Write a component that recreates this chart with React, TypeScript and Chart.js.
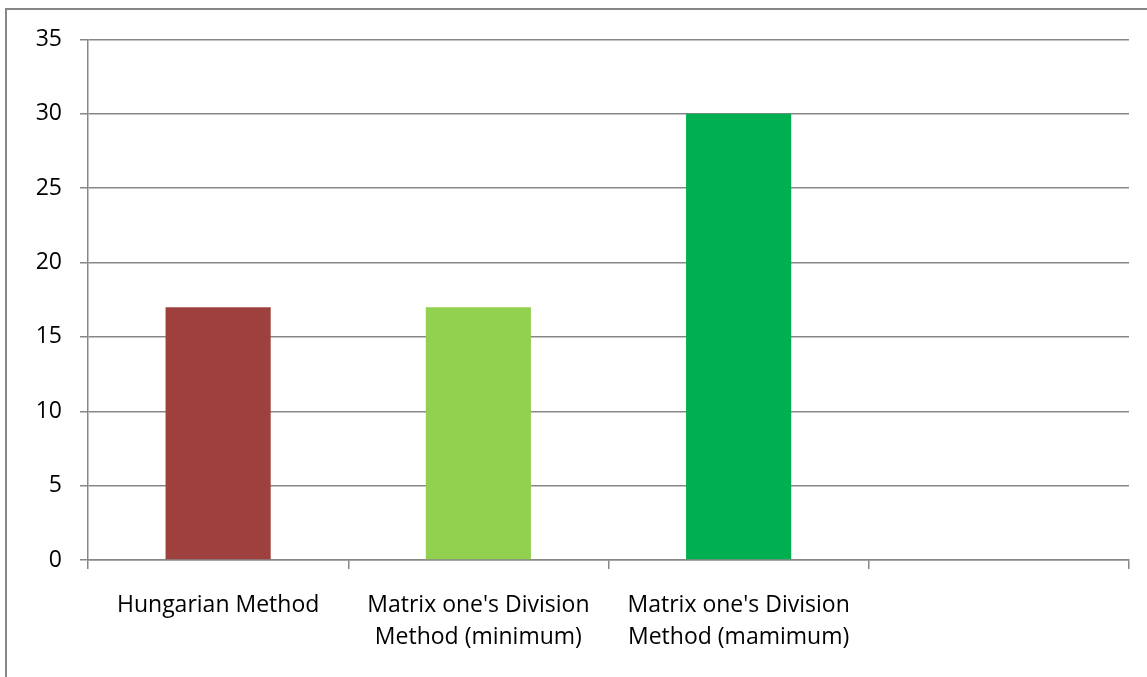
import React, { useEffect, useRef } from "react";
import { Chart, registerables } from "chart.js";

Chart.register(...registerables);

const categories: (string | string[])[] = [
  "Hungarian Method",
  ["Matrix one's Division", "Method (minimum)"],
  ["Matrix one's Division", "Method (mamimum)"],
  "",
];
const values: (number | null)[] = [17, 17, 30, null];
const barColors = ["#9E403D", "#92D050", "#00B050", "#000000"];
const yMin = 0;
const yMax = 35;
const yStep = 5;

export default function App() {
  const ref = useRef<HTMLCanvasElement>(null);
  useEffect(() => {
    if (!ref.current) return;
    const xFont = { family: "'Open Sans', sans-serif", size: 23, lineHeight: 1.4 };
    const yFont = { family: "'Open Sans', sans-serif", size: 23, lineHeight: 1.0 };
    const chart = new Chart(ref.current, {
      type: "bar",
      data: {
        labels: categories,
        datasets: [
          {
            data: values,
            backgroundColor: barColors,
            borderWidth: 0,
            categoryPercentage: 1,
            barPercentage: 0.404,
          },
        ],
      },
      options: {
        animation: false,
        responsive: false,
        devicePixelRatio: 1,
        layout: { padding: { left: 0, right: 18, top: 28, bottom: 0 } },
        plugins: { legend: { display: false }, tooltip: { enabled: false } },
        scales: {
          x: {
            offset: true,
            grid: {
              offset: true,
              drawOnChartArea: false,
              drawTicks: true,
              tickLength: 9,
              color: "#878787",
              lineWidth: 1.5,
            },
            border: { display: true, color: "#878787", width: 1.5 },
            ticks: { font: xFont, color: "#000000", padding: 20, maxRotation: 0, autoSkip: false },
            afterFit: (s: any) => {
              s.height = 117;
            },
          },
          y: {
            min: yMin,
            max: yMax,
            grid: { color: "#878787", lineWidth: 1.5, tickLength: 8 },
            border: { display: true, color: "#878787", width: 1.5 },
            ticks: { stepSize: yStep, font: yFont, color: "#000000", padding: 18 },
            afterFit: (s: any) => {
              s.width = 81;
            },
          },
        },
      },
    });
    return () => chart.destroy();
  }, []);
  return (
    <div
      style={{
        position: "absolute",
        left: 5,
        top: 8,
        width: 1200,
        height: 720,
        border: "2px solid #878787",
        background: "#ffffff",
        boxSizing: "border-box",
      }}
    >
      <canvas ref={ref} width={1140} height={667} style={{ display: "block", width: 1140, height: 667 }} />
    </div>
  );
}
